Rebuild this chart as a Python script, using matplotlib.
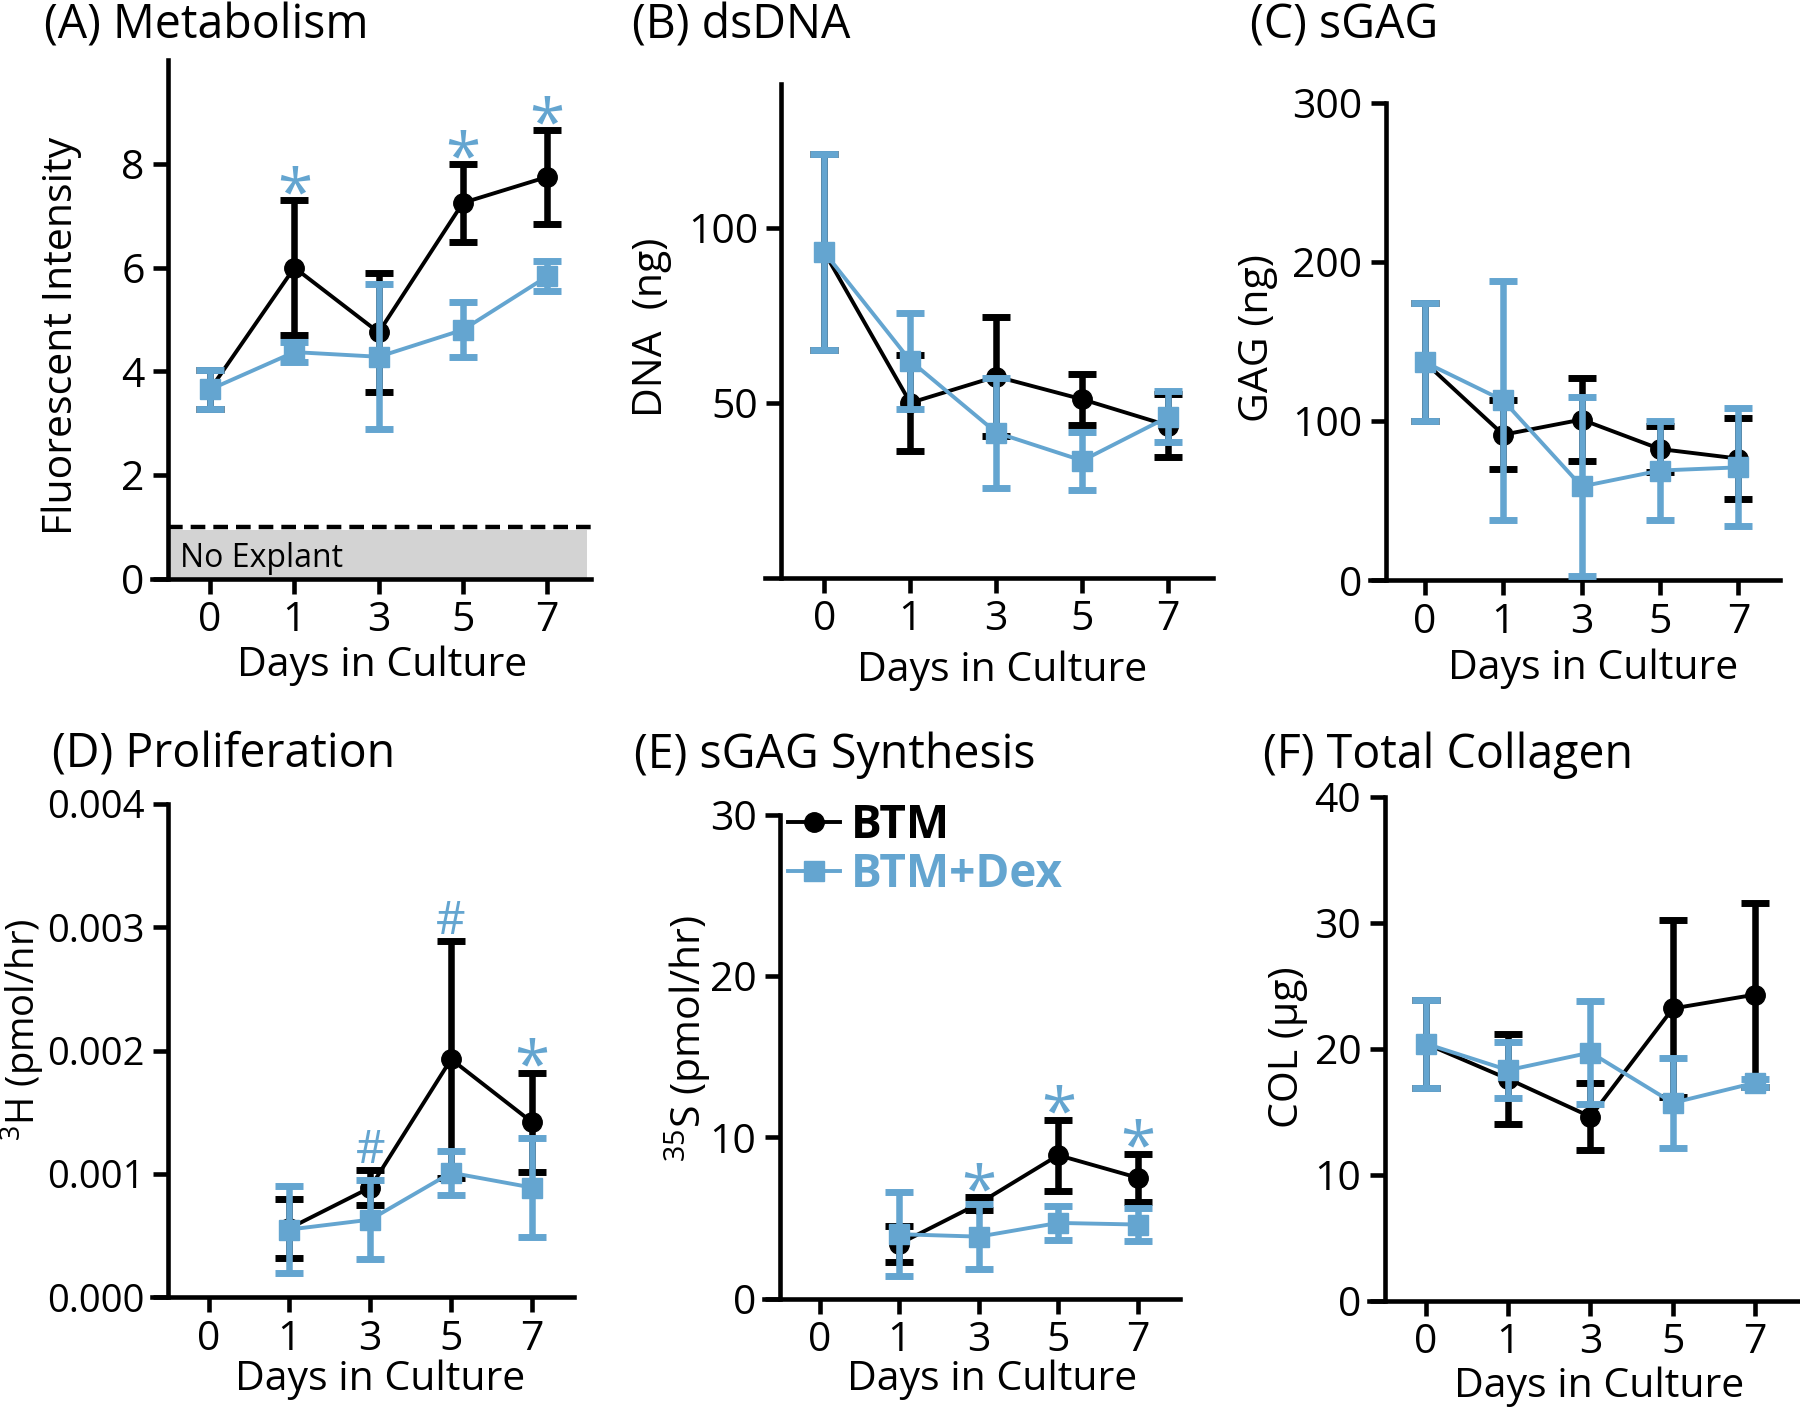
"""
Six-panel explant culture time course (BTM vs BTM+Dex), mean +/- SD.
Writes out.png (1800 x 1407).
"""

import matplotlib

matplotlib.use("Agg")
import matplotlib.pyplot as plt
import numpy as np
from matplotlib.lines import Line2D

plt.rcParams["font.family"] = ["Open Sans", "DejaVu Sans"]
plt.rcParams["mathtext.fontset"] = "custom"
plt.rcParams["mathtext.rm"] = "Open Sans"

nan = np.nan

# ---- data ----
day_labels = ["0", "1", "3", "5", "7"]

metab_btm = [3.65, 6.0, 4.75, 7.25, 7.75]
metab_btm_err = [0.37, 1.3, 1.15, 0.75, 0.9]
metab_dex = [3.65, 4.37, 4.28, 4.8, 5.83]
metab_dex_err = [0.37, 0.2, 1.4, 0.53, 0.29]
no_explant_level = 1.0

dna_btm = [93, 50, 57.5, 51, 43.5]
dna_btm_err = [28, 13.7, 17, 7.2, 9]
dna_dex = [93, 62, 41.5, 33.5, 46]
dna_dex_err = [28, 13.7, 15.7, 8.3, 7.3]

gag_btm = [137, 91.5, 101, 82.5, 76.5]
gag_btm_err = [37, 21.5, 26, 14.5, 25.5]
gag_dex = [137, 113, 59, 69, 71]
gag_dex_err = [37, 75, 56, 31, 37]

prolif_btm = [nan, 0.00056, 0.00089, 0.00193, 0.00142]
prolif_btm_err = [nan, 0.00024, 0.00014, 0.00096, 0.0004]
prolif_dex = [nan, 0.00055, 0.00063, 0.00101, 0.00089]
prolif_dex_err = [nan, 0.00035, 0.00032, 0.00018, 0.0004]

synth_btm = [nan, 3.4, 5.9, 8.9, 7.5]
synth_btm_err = [nan, 1.1, 0.4, 2.2, 1.5]
synth_dex = [nan, 4.0, 3.85, 4.7, 4.6]
synth_dex_err = [nan, 2.6, 2.0, 1.05, 1.0]

col_btm = [20.4, 17.6, 14.6, 23.2, 24.3]
col_btm_err = [3.5, 3.6, 2.65, 7.0, 7.3]
col_dex = [20.4, 18.3, 19.7, 15.7, 17.3]
col_dex_err = [3.5, 2.2, 4.1, 3.6, 0.3]

# significance marks: "" = none
metab_sig = ["", "*", "", "*", "*"]
prolif_sig = ["", "", "#", "#", "*"]
synth_sig = ["", "", "*", "*", "*"]

# ---- figure layout (pixels of the 1800 x 1407 canvas) ----
W, H = 1800, 1407
BLUE = "#64A5D0"
FS_TITLE = 33.5
FS_LABEL = 29.5


def box(left, right, top, bottom):
    return [left / W, 1 - bottom / H, (right - left) / W, (bottom - top) / H]


panels = [
    dict(title="(A) Metabolism", ylabel="Fluorescent Intensity",
         btm=metab_btm, btm_err=metab_btm_err, dex=metab_dex, dex_err=metab_dex_err,
         sig=metab_sig, rect=box(152, 591, 60.3, 578.6), xlim=(-0.69, 4.52),
         ylim=(0, 10), yticks=[0, 2, 4, 6, 8], fmt="{:g}", ytick_fs=FS_LABEL,
         ylabel_fs=FS_LABEL,
         title_xy=(44, 38), xlabel_xy=(382.5, 676), ylabel_xy=(62, 336)),
    dict(title="(B) dsDNA", ylabel="DNA  (ng)",
         btm=dna_btm, btm_err=dna_btm_err, dex=dna_dex, dex_err=dna_dex_err,
         sig=None, rect=box(765, 1213, 84, 578), xlim=(-0.69, 4.52),
         ylim=(0, 141), yticks=[50, 100], fmt="{:g}", ytick_fs=FS_LABEL,
         ylabel_fs=FS_LABEL,
         title_xy=(632.5, 38), xlabel_xy=(1001.7, 681), ylabel_xy=(651.6, 327)),
    dict(title="(C) sGAG", ylabel="GAG (ng)",
         btm=gag_btm, btm_err=gag_btm_err, dex=gag_dex, dex_err=gag_dex_err,
         sig=None, rect=box(1370, 1780, 102.7, 580.4), xlim=(-0.70, 4.53),
         ylim=(0, 300), yticks=[0, 100, 200, 300], fmt="{:g}", ytick_fs=FS_LABEL,
         ylabel_fs=FS_LABEL,
         title_xy=(1250, 38), xlabel_xy=(1593, 678.6), ylabel_xy=(1258, 338)),
    dict(title="(D) Proliferation", ylabel=r"$\mathregular{^{3}}$H (pmol/hr)",
         btm=prolif_btm, btm_err=prolif_btm_err, dex=prolif_dex, dex_err=prolif_dex_err,
         sig=prolif_sig, rect=box(152, 574, 803.7, 1297.4), xlim=(-0.70, 4.52),
         ylim=(0, 0.004), yticks=[0, 0.001, 0.002, 0.003, 0.004], fmt="{:.3f}",
         ytick_fs=27.5, ylabel_fs=27.5,
         title_xy=(51.7, 767.6), xlabel_xy=(380, 1390), ylabel_xy=(23, 1030)),
    dict(title="(E) sGAG Synthesis", ylabel=r"$\mathregular{^{35}}$S (pmol/hr)",
         btm=synth_btm, btm_err=synth_btm_err, dex=synth_dex, dex_err=synth_dex_err,
         sig=synth_sig, rect=box(764, 1180, 815, 1298.7), xlim=(-0.70, 4.53),
         ylim=(0, 30), yticks=[0, 10, 20, 30], fmt="{:g}", ytick_fs=FS_LABEL,
         ylabel_fs=FS_LABEL,
         title_xy=(634.4, 767.6), xlabel_xy=(992, 1390), ylabel_xy=(688, 1038)),
    dict(title="(F) Total Collagen", ylabel="COL (µg)",
         btm=col_btm, btm_err=col_btm_err, dex=col_dex, dex_err=col_dex_err,
         sig=None, rect=box(1369, 1798, 797, 1300.5), xlim=(-0.69, 4.52),
         ylim=(0, 40), yticks=[0, 10, 20, 30, 40], fmt="{:g}", ytick_fs=FS_LABEL,
         ylabel_fs=FS_LABEL,
         title_xy=(1263, 767.6), xlabel_xy=(1599, 1396.6), ylabel_xy=(1288, 1047)),
]

series_style = dict(lw=2.8, elinewidth=4.7, capsize=10, capthick=5, ms=14)

fig = plt.figure(figsize=(W / 100, H / 100), dpi=100)
x = np.arange(len(day_labels))

axes = []
for p in panels:
    ax = fig.add_axes(p["rect"])
    axes.append(ax)

    ax.errorbar(x, p["btm"], yerr=p["btm_err"], color="black", marker="o",
                zorder=3, clip_on=False, **series_style)
    ax.errorbar(x, p["dex"], yerr=p["dex_err"], color=BLUE, marker="s",
                zorder=4, clip_on=False, **series_style)

    # significance marks sit just above the highest error bar
    if p["sig"]:
        top = np.fmax(np.add(p["btm"], p["btm_err"]), np.add(p["dex"], p["dex_err"]))
        for i, s in enumerate(p["sig"]):
            if not s:
                continue
            fs = 46 if s == "*" else 33
            rise = 0.59 * fs if s == "*" else 0.36 * fs
            ax.annotate(s, (x[i], top[i]), xytext=(0, 17 - rise),
                        textcoords="offset points", ha="center", va="baseline",
                        fontsize=fs, color=BLUE, zorder=6)

    ax.set_xlim(*p["xlim"])
    ax.set_ylim(*p["ylim"])
    ax.set_xticks(x)
    ax.set_xticklabels(day_labels)
    ax.set_yticks(p["yticks"])
    ax.set_yticklabels([p["fmt"].format(v) for v in p["yticks"]])

    for side in ("top", "right"):
        ax.spines[side].set_visible(False)
    ax.spines["left"].set_position(("data", -0.5))
    for side in ("left", "bottom"):
        ax.spines[side].set_linewidth(3.3)
    ax.tick_params(axis="both", direction="out", length=10.8, width=3.3)
    ax.tick_params(axis="x", pad=5, labelsize=FS_LABEL)
    ax.tick_params(axis="y", pad=6, labelsize=p["ytick_fs"])
    ax.patch.set_visible(False)

    tx, ty = p["title_xy"]
    fig.text(tx / W, 1 - ty / H, p["title"], fontsize=FS_TITLE,
             ha="left", va="baseline")
    lx, ly = p["xlabel_xy"]
    fig.text(lx / W, 1 - ly / H, "Days in Culture", fontsize=FS_LABEL,
             ha="center", va="baseline")
    yx, yy = p["ylabel_xy"]
    fig.text(yx / W, 1 - yy / H, p["ylabel"], fontsize=p["ylabel_fs"],
             ha="center", va="center", rotation=90)

# Panel A: no-explant background level
ax_a = axes[0]
ax_a.fill_between([-0.5, 4.47], 0, no_explant_level * 0.94, color="#D3D3D3",
                  lw=0, zorder=1)
ax_a.plot([-0.5, 4.56], [no_explant_level] * 2, color="black", lw=3.2,
          ls=(0, (3.3, 1.8)), zorder=2, clip_on=False)
ax_a.text(-0.36, no_explant_level * 0.22, "No Explant", fontsize=23,
          ha="left", va="baseline", zorder=2)

# Legend in panel E
handles = [
    Line2D([], [], color="black", marker="o", ms=14, lw=2.8),
    Line2D([], [], color=BLUE, marker="s", ms=14, lw=2.8),
]
leg = axes[4].legend(handles, ["BTM", "BTM+Dex"], loc="upper left",
                     bbox_to_anchor=(788 / W, 1 - 802 / H),
                     bbox_transform=fig.transFigure, frameon=False,
                     prop=dict(weight="bold", size=33), handlelength=1.13,
                     handletextpad=0.25, labelspacing=0.05, borderpad=0,
                     borderaxespad=0, numpoints=1)
leg.get_texts()[0].set_color("black")
leg.get_texts()[1].set_color(BLUE)

fig.savefig("out.png", dpi=100)
